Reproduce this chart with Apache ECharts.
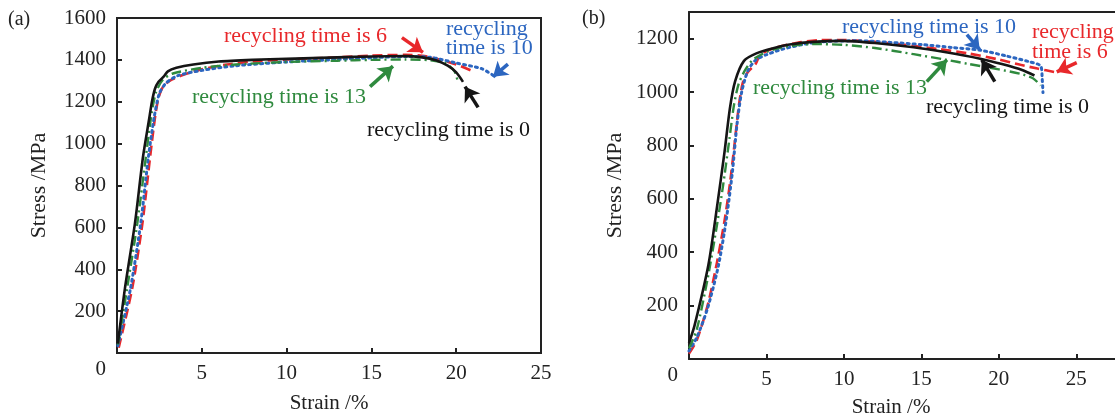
<!DOCTYPE html>
<html><head><meta charset="utf-8">
<script src="https://cdn.jsdelivr.net/npm/echarts@6/dist/echarts.min.js"></script>
<style>html,body{margin:0;padding:0;background:#fff}#c{width:1115px;height:419px}</style>
</head><body><div id="c"></div>
<script>
// ---- data: [strain %, stress MPa] ----
const A_T0  = [[0.05,45],[0.47,310],[1.06,620],[1.53,935],[1.9,1120],[2.06,1200],[2.24,1262],[2.45,1295],[2.75,1320],[3.0,1345],[3.5,1362],[4.5,1378],[6,1392],[8,1400],[10,1405],[13,1412],[15,1416],[17,1418],[18,1412],[18.8,1398],[19.5,1372],[20.0,1340],[20.4,1295]];
const A_T6  = [[0.1,25],[0.9,310],[1.5,620],[1.95,935],[2.25,1130],[2.45,1220],[2.7,1270],[3.1,1300],[3.8,1325],[5,1355],[6.5,1378],[8,1392],[10,1402],[13,1412],[15,1420],[17,1424],[18,1420],[19,1402],[20,1378],[21.1,1342]];
const A_T10 = [[0.05,35],[0.8,310],[1.4,620],[1.85,935],[2.2,1130],[2.5,1240],[2.9,1290],[3.6,1325],[5,1350],[7,1372],[10,1390],[13,1402],[15,1410],[17,1416],[18.5,1412],[20,1385],[21.5,1358],[22.3,1320]];
const A_T13 = [[0.05,40],[0.6,310],[1.2,620],[1.7,935],[2.05,1150],[2.3,1245],[2.7,1305],[3.3,1335],[5,1362],[7,1378],[10,1390],[13,1396],[15,1400],[17,1402],[18.5,1398],[19.4,1382],[19.9,1345],[20.1,1295]];

const B_T0  = [[0,60],[0.36,126],[1.26,355],[1.84,583],[2.29,774],[2.64,939],[2.98,1041],[3.55,1117],[4.35,1145],[5.5,1165],[6.5,1178],[8,1188],[9.9,1192],[12,1184],[14.5,1168],[16.5,1150],[18.8,1125],[20.2,1105],[21.5,1083],[22.3,1062]];
const B_T6  = [[0,20],[0.5,70],[1.2,200],[1.8,360],[2.3,520],[2.65,660],[2.95,810],[3.2,940],[3.45,1030],[3.8,1075],[4.3,1105],[4.6,1140],[5.5,1165],[7,1185],[8.5,1195],[10,1195],[12,1188],[14,1176],[16,1162],[18,1145],[20,1122],[21.4,1102],[22.5,1088],[23.7,1074]];
const B_T10 = [[0,30],[0.5,80],[1.2,190],[1.9,350],[2.4,520],[2.8,700],[3.1,880],[3.4,1000],[3.8,1080],[4.3,1120],[5,1140],[6,1160],[7.5,1180],[9,1190],[11,1192],[13,1186],[15,1178],[17,1167],[18.8,1157],[20.5,1135],[22,1113],[22.7,1098],[22.8,1050],[22.85,998]];
const B_T13 = [[0,40],[0.5,110],[1.2,300],[1.8,500],[2.2,650],[2.6,820],[2.9,950],[3.2,1030],[3.6,1080],[4.1,1120],[5,1150],[6,1168],[8,1180],[10,1177],[12,1165],[14.5,1142],[16.6,1121],[18,1106],[20,1085],[21.4,1068],[22.2,1052],[22.7,1025]];

// annotation arrows [tail, head] in data coords
const ARROWS_A = {
  t6:  [[16.8,1506],[18.04,1436]],
  t10: [[23.05,1380],[22.17,1319]],
  t13: [[14.92,1272],[16.27,1370]],
  t0:  [[21.29,1173],[20.52,1272]]
};
const ARROWS_B = {
  t10: [[17.94,1215],[18.77,1159]],
  t6:  [[25.03,1110],[23.74,1076]],
  t13: [[15.35,1039],[16.65,1121]],
  t0:  [[19.74,1039],[18.9,1121]]
};

const LABELS = {t0:'recycling time is 0', t6:'recycling time is 6', t10:'recycling time is 10', t13:'recycling time is 13'};
const X_NAME = 'Strain /%', Y_NAME = 'Stress /MPa';

const FONT = '"Liberation Serif", "Times New Roman", serif';
const C = {t0:'#151515', t6:'#e8282b', t10:'#2c66c0', t13:'#2f8a3e'};
const AX = '#222';

function xAxis(gi, max, showName){
  return {gridIndex:gi, type:'value', min:0, max:max, interval:5,
    axisLine:{lineStyle:{color:AX,width:2}},
    axisTick:{inside:true,length:5,lineStyle:{color:AX,width:2}},
    axisLabel:{margin:10,fontFamily:FONT,fontSize:21,color:AX,showMaxLabel: max%5===0,
      formatter:v=> (v===0||v%5!==0)?'':String(v)},
    splitLine:{show:false},
    name: showName?X_NAME:'', nameLocation:'middle', nameGap:40,
    nameTextStyle:{fontFamily:FONT,fontSize:21,color:AX}};
}
function topAxis(gi, max){
  return {gridIndex:gi, type:'value', min:0, max:max, position:'top',
    axisLine:{show:true,lineStyle:{color:AX,width:2}},
    axisTick:{show:false}, axisLabel:{show:false}, splitLine:{show:false}};
}
function yAxis(gi, max, gap){
  return {gridIndex:gi, type:'value', min:0, max:max, interval:200,
    axisLine:{lineStyle:{color:AX,width:2}},
    axisTick:{inside:true,length:5,lineStyle:{color:AX,width:2}},
    axisLabel:{margin:11,fontFamily:FONT,fontSize:21,color:AX,showMaxLabel: max%200===0,
      formatter:v=> v===0?'{z|0}':String(v),
      rich:{z:{padding:[32,0,0,0],fontFamily:FONT,fontSize:21,color:AX}}},
    splitLine:{show:false},
    name:Y_NAME, nameLocation:'middle', nameGap:gap, nameRotate:90,
    nameTextStyle:{fontFamily:FONT,fontSize:22,color:AX}};
}
function line(gi, key, data, arrow){
  const styles = {
    t0:{type:'solid',width:2.6},
    t6:{type:[10,5],width:2.6},
    t10:{type:[2,4],width:3,cap:'round'},
    t13:{type:[10,4,2,4],width:2.4}
  };
  return {type:'line', xAxisIndex:gi, yAxisIndex:gi, data:data, showSymbol:false,
    smooth:0.25, z: key==='t0'?5:3,
    lineStyle:Object.assign({color:C[key]}, styles[key]),
    markLine:{silent:true, symbol:['none','arrow'], symbolSize:14, animation:false,
      label:{show:false}, lineStyle:{color:C[key],width:3.5,type:'solid'},
      data:[[{coord:arrow[0]},{coord:arrow[1]}]]}};
}
function txt(x,y,s,color,size){
  return {type:'text', x:x, y:y, silent:true,
    style:{text:s, fill:color, font:(size||22)+'px '+FONT, align:'left', verticalAlign:'middle'}};
}

const chart = echarts.init(document.getElementById('c'), null, {renderer:'canvas'});
chart.setOption({
  animation:false,
  backgroundColor:'#fff',
  grid:[
    {left:117, top:18, width:424, height:341, show:true, borderColor:AX, borderWidth:2},
    {left:689, top:12, width:426, height:347, show:false}
  ],
  xAxis:[xAxis(0,25,true), xAxis(1,27.5,false), topAxis(1,27.5)],
  yAxis:[yAxis(0,1600,67), yAxis(1,1300,63)],
  series:[
    line(0,'t6',A_T6,ARROWS_A.t6), line(0,'t10',A_T10,ARROWS_A.t10),
    line(0,'t13',A_T13,ARROWS_A.t13), line(0,'t0',A_T0,ARROWS_A.t0),
    line(1,'t6',B_T6,ARROWS_B.t6), line(1,'t10',B_T10,ARROWS_B.t10),
    line(1,'t13',B_T13,ARROWS_B.t13), line(1,'t0',B_T0,ARROWS_B.t0)
  ],
  graphic:[
    txt(8,20,'(a)',AX,20),
    txt(582,19,'(b)',AX,20),
    {type:'text', x:891, y:407, silent:true, style:{text:X_NAME, fill:AX, font:'21px '+FONT, align:'center', verticalAlign:'middle'}},
    txt(224,36,LABELS.t6,C.t6),
    {type:'text', x:446, y:39, silent:true, style:{text:'recycling\ntime is 10', fill:C.t10, font:'22px '+FONT, align:'left', verticalAlign:'middle', lineHeight:19}},
    txt(192,97,LABELS.t13,C.t13),
    txt(367,130,LABELS.t0,C.t0),
    txt(842,27,LABELS.t10,C.t10),
    {type:'text', x:1032, y:42, silent:true, style:{text:'recycling\ntime is 6', fill:C.t6, font:'22px '+FONT, align:'left', verticalAlign:'middle', lineHeight:20}},
    txt(753,88,LABELS.t13,C.t13),
    txt(926,107,LABELS.t0,C.t0)
  ]
});
</script></body></html>
